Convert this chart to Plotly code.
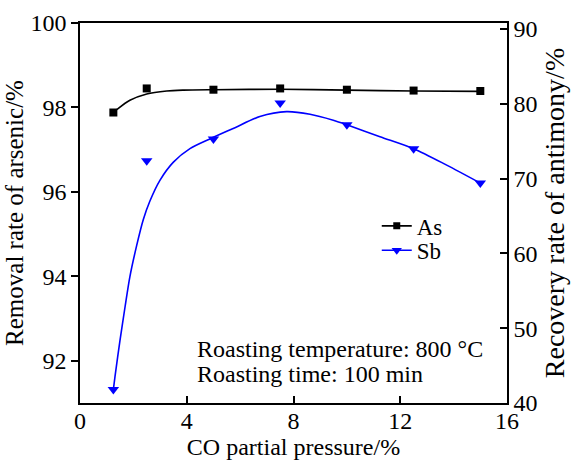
import plotly.graph_objects as go

# Measured points
co = [1.25, 2.5, 5, 7.5, 10, 12.5, 15]
as_removal = [97.88, 98.45, 98.42, 98.45, 98.42, 98.40, 98.39]
sb_recovery = [41.8, 72.4, 75.3, 80.1, 77.2, 74.0, 69.4]

# Fitted curves
as_fit_x = [1.25, 1.4, 1.87, 2.5, 3.25, 3.87, 5, 7.5, 10, 12.5, 15]
as_fit_y = [97.88, 97.96, 98.17, 98.32, 98.39, 98.41, 98.42, 98.43, 98.41, 98.39, 98.38]
sb_fit_x = [1.25, 1.31, 1.5, 1.69, 1.87, 2.12, 2.37, 2.62, 3.0, 3.5, 4.12, 4.87, 5.74, 6.74, 7.74, 8.62, 9.49, 10, 11.24, 12.5, 13.74, 15]
sb_fit_y = [41.8, 43.5, 48.4, 52.9, 56.9, 61.0, 64.5, 67.0, 69.8, 72.2, 74.0, 75.3, 76.7, 78.3, 78.95, 78.6, 77.8, 77.2, 75.6, 74.0, 71.8, 69.4]

x_ticks = [0, 4, 8, 12, 16]
left_ticks = [92, 94, 96, 98, 100]
right_ticks = [40, 50, 60, 70, 80, 90]

FONT = "Liberation Serif, Times New Roman, serif"
BLUE = "#0000ff"
TICK_SIZE = 24

fig = go.Figure()
fig.add_trace(go.Scatter(x=as_fit_x, y=as_fit_y, mode="lines",
                         line=dict(color="black", width=1.6, shape="spline", smoothing=0.8),
                         showlegend=False, hoverinfo="skip"))
fig.add_trace(go.Scatter(x=co, y=as_removal, mode="markers", marker=dict(symbol="square", size=8, color="black"),
                         showlegend=False))
fig.add_trace(go.Scatter(x=sb_fit_x, y=sb_fit_y, mode="lines",
                         line=dict(color=BLUE, width=1.6, shape="spline", smoothing=0.8),
                         showlegend=False, hoverinfo="skip", yaxis="y2"))
fig.add_trace(go.Scatter(x=co, y=sb_recovery, mode="markers", marker=dict(symbol="triangle-down", size=10, color=BLUE),
                         showlegend=False, yaxis="y2"))
# legend entries (two separate legends to get the tight vertical spacing of the reference)
fig.add_trace(go.Scatter(x=[None], y=[None], mode="lines+markers", name="As", legend="legend",
                         line=dict(color="black", width=1.6), marker=dict(symbol="square", size=7, color="black")))
fig.add_trace(go.Scatter(x=[None], y=[None], mode="lines+markers", name="Sb", yaxis="y2", legend="legend2",
                         line=dict(color=BLUE, width=1.6), marker=dict(symbol="triangle-down", size=9, color=BLUE)))

axis_common = dict(showgrid=False, zeroline=False, linecolor="black", linewidth=1.5,
                   tickcolor="black", tickwidth=1.5, ticklen=7, automargin=False,
                   tickfont=dict(family=FONT, size=TICK_SIZE, color="black"))

legend_common = dict(xanchor="left", yanchor="middle", bgcolor="rgba(0,0,0,0)",
                     font=dict(family=FONT, size=23, color="black"), itemwidth=30)

fig.update_layout(
    width=573, height=460,
    margin=dict(l=80, r=66, t=23, b=57),
    paper_bgcolor="white", plot_bgcolor="white",
    font=dict(family=FONT, size=20, color="black"),
    xaxis=dict(range=[0, 16], tickvals=x_ticks, ticks="inside", mirror=True, showline=True,
               ticklabelstandoff=-5,
               title=dict(text="CO partial pressure/%", standoff=0,
                          font=dict(family=FONT, size=24, color="black")), **axis_common),
    yaxis=dict(range=[91, 100], tickvals=left_ticks, ticks="outside", showline=True,
               title=dict(text="Removal rate of arsenic/%", standoff=0,
                          font=dict(family=FONT, size=25, color="black")), **axis_common),
    yaxis2=dict(range=[40, 90.8], tickvals=right_ticks, ticks="inside", showline=True, overlaying="y", side="right",
                title=dict(text="Recovery rate of antimony/%", standoff=8,
                           font=dict(family=FONT, size=28, color="black")), **axis_common),
    legend=dict(x=0.695, y=0.466, **legend_common),
    legend2=dict(x=0.695, y=0.402, **legend_common),
    annotations=[
        dict(xref="paper", yref="paper", x=0.269, y=0.143, xanchor="left", yanchor="middle", showarrow=False,
             text="Roasting temperature: 800 °C", font=dict(family=FONT, size=24, color="black")),
        dict(xref="paper", yref="paper", x=0.269, y=0.077, xanchor="left", yanchor="middle", showarrow=False,
             text="Roasting time: 100 min", font=dict(family=FONT, size=24, color="black")),
    ],
)

fig.write_html("out.html")
